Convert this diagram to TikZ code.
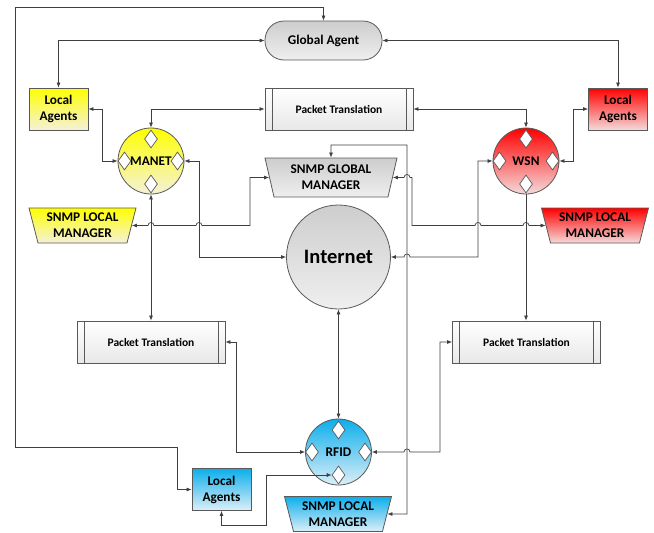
\documentclass[tikz,border=0pt]{standalone}
\usepackage{fontspec}
\setmainfont{Carlito}
\usetikzlibrary{shapes.geometric,arrows.meta}

\definecolor{linec}{HTML}{3F3F3F}
\definecolor{edgec}{HTML}{595959}
\definecolor{grayTop}{HTML}{CDCDCD}
\definecolor{grayBot}{HTML}{EFEFEF}
\definecolor{yelTop}{HTML}{FFFF00}
\definecolor{yelBot}{HTML}{F4F1DA}
\definecolor{redTop}{HTML}{FF0000}
\definecolor{redBot}{HTML}{F5DADA}
\definecolor{bluTop}{HTML}{0CAEEC}
\definecolor{bluBot}{HTML}{DDEFF7}
\definecolor{procBot}{HTML}{E8E8E8}

% small line jump over a crossing connector (rightward / leftward)
\newcommand\hopR[2]{-- (#1-3,#2) .. controls (#1-3,#2-4) and (#1+3,#2-4) .. (#1+3,#2)}
\newcommand\hopL[2]{-- (#1+3,#2) .. controls (#1+3,#2-4) and (#1-3,#2-4) .. (#1-3,#2)}

\begin{document}
\begin{tikzpicture}[x=1pt,y=-1pt,
  >={Latex[length=5pt,width=4pt]},
  conn/.style={draw=linec, line width=0.7pt},
  base/.style={draw=edgec, line width=0.8pt, align=center, inner sep=0pt,
    font=\bfseries\fontsize{13.3}{16}\selectfont},
  grayfill/.style={top color=grayTop, bottom color=grayBot},
  yelfill/.style={top color=yelTop, bottom color=yelBot},
  redfill/.style={top color=redTop, bottom color=redBot},
  blufill/.style={top color=bluTop, bottom color=bluBot},
  agentbox/.style={base, rectangle, minimum width=59pt, minimum height=42pt},
  netcircle/.style={base, circle, minimum size=66pt},
  globalbox/.style={base, grayfill, rectangle, rounded corners=19pt,
    minimum width=117pt, minimum height=39pt},
  procbox/.style={base, rectangle, minimum width=148pt, minimum height=42pt,
    top color=white, bottom color=procBot,
    font=\bfseries\fontsize{11.5}{13}\selectfont,
    path picture={
      \draw[edgec, line width=0.8pt]
        ([xshift=7pt]path picture bounding box.north west) --
        ([xshift=7pt]path picture bounding box.south west);
      \draw[edgec, line width=0.8pt]
        ([xshift=-7pt]path picture bounding box.north east) --
        ([xshift=-7pt]path picture bounding box.south east);}},
  mgrbox/.style={base, trapezium, trapezium angle=70, trapezium stretches body,
    shape border rotate=180},
  localmgr/.style={mgrbox, minimum width=107pt, minimum height=35pt},
  globalmgr/.style={mgrbox, grayfill, minimum width=132pt, minimum height=39pt},
  port/.style={diamond, draw=edgec, fill=white, line width=0.7pt,
    minimum width=13pt, minimum height=18pt, inner sep=0pt},
]
\useasboundingbox (0,0) rectangle (654,533);

% ---- agents
\node[globalbox] (ga) at (323.5,40.5) {Global Agent};
\node[agentbox, yelfill] (yla) at (58.5,109) {Local\\Agents};
\node[agentbox, redfill] (rla) at (618,109) {Local\\Agents};
\node[agentbox, blufill] (bla) at (221.5,489.5) {Local\\Agents};

% ---- translators
\node[procbox] (pt1) at (339,109) {Packet Translation};
\node[procbox] (pt2) at (151,342) {Packet Translation};
\node[procbox] (pt3) at (526.5,342) {Packet Translation};

% ---- managers
\node[globalmgr] (sgm) at (331,177.5) {SNMP GLOBAL\\MANAGER};
\node[localmgr, yelfill] (ysnmp) at (82.5,225.5) {SNMP LOCAL\\MANAGER};
\node[localmgr, redfill] (rsnmp) at (595,225.5) {SNMP LOCAL\\MANAGER};
\node[localmgr, blufill] (bsnmp) at (338,514) {SNMP LOCAL\\MANAGER};

% ---- networks
\node[base, grayfill, circle, minimum size=104pt,
  font=\bfseries\fontsize{20.5}{24}\selectfont] (inet) at (338.5,257) {Internet};
\node[netcircle, yelfill] (manet) at (151,161) {MANET};
\node[netcircle, redfill] (wsn) at (526,161) {WSN};
\node[netcircle, blufill] (rfid) at (338.5,452) {RFID};

% ---- ports on the network circles
\foreach \n in {manet,wsn,rfid}{
  \node[port] (\n-t) at ([yshift=22pt]\n.center) {};
  \node[port] (\n-b) at ([yshift=-23pt]\n.center) {};
  \node[port] (\n-l) at ([xshift=-26.5pt]\n.center) {};
  \node[port] (\n-r) at ([xshift=26.5pt]\n.center) {};
}

% ---- connectors
\draw[conn,<->] (ga.north) -- (323.5,7) -- (15,7) -- (15,447) -- (177,447)
  -- (177,489.5) -- (bla.west);
\draw[conn,<->] (ga.west) -| (yla.north);
\draw[conn,<->] (ga.east) -| (rla.north);
\draw[conn,<->] (pt1.west) -| (manet.north);
\draw[conn,<->] (pt1.east) -| (wsn.north);
\draw[conn,<->] (yla.east) -- (102,109) |- (manet.west);
\draw[conn,<->] (rla.west) -- (573,109) |- (wsn.east);
\draw[conn,<->] (manet.east) -- (199,161) |- (inet.west);
\draw[conn,<->] (wsn.west) -- (478,161) -- (478,257) \hopL{407}{257} -- (inet.east);
\draw[conn,<->] (sgm.180) -- (250,177.5) -- (250,225.5) \hopL{199}{225.5}
  \hopL{151}{225.5} -- (ysnmp.0);
\draw[conn,<->] (sgm.0) \hopR{407}{177.5} -- (412,177.5) -- (412,225.5)
  \hopR{478}{225.5} \hopR{526}{225.5} -- (rsnmp.180);
\draw[conn,<->] (sgm.90) -- (331,145) -- (407,145) -- (407,514) -- (bsnmp.0);
\draw[conn,<->] (inet.south) -- (rfid.north);
\draw[conn,<->] (manet.south) -- (pt2.north);
\draw[conn,->] (wsn.south) -- (wsn.south |- pt3.north);
\draw[conn,<->] (pt2.east) -- (236,342) |- (rfid.west);
\draw[conn,<->] (rfid.east) \hopR{407}{452} -- (440,452) |- (pt3.west);
\draw[conn,<->] (rfid-b.west) -- (266,475) -- (266,525) -| (bla.south);
\end{tikzpicture}
\end{document}
